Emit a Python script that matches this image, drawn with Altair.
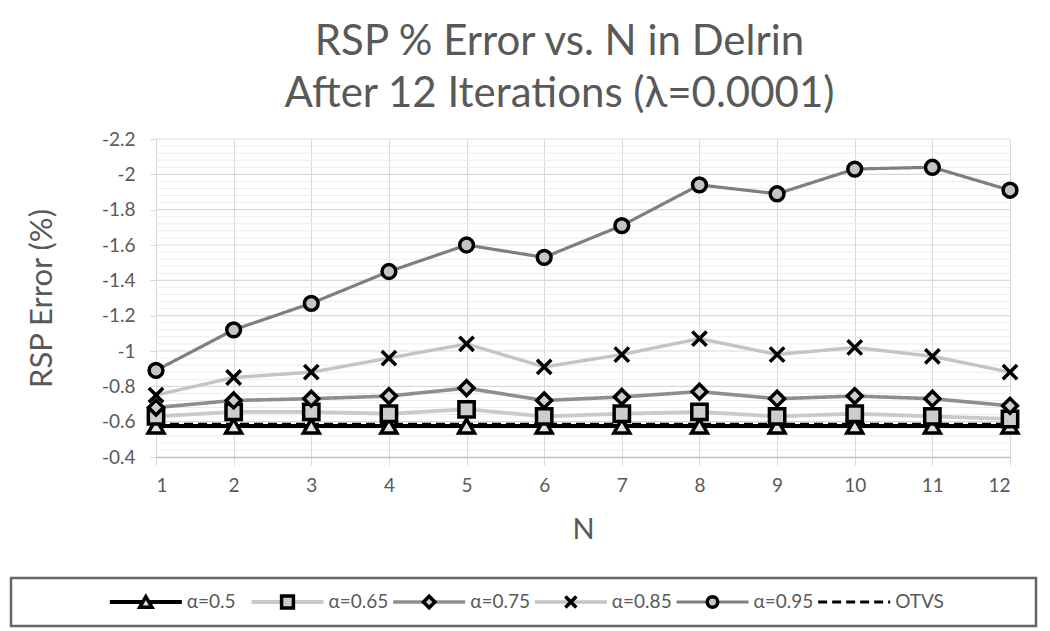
import altair as alt
import pandas as pd

# ---------------- data ----------------
N_VALUES = [1, 2, 3, 4, 5, 6, 7, 8, 9, 10, 11, 12]
SERIES = ["α=0.5", "α=0.65", "α=0.75", "α=0.85", "α=0.95", "OTVS"]

ERR_A050 = [-0.575, -0.575, -0.575, -0.575, -0.575, -0.575, -0.575, -0.575, -0.575, -0.575, -0.575, -0.575]
ERR_A065 = [-0.63, -0.655, -0.655, -0.645, -0.67, -0.63, -0.645, -0.655, -0.63, -0.645, -0.63, -0.615]
ERR_A075 = [-0.68, -0.72, -0.73, -0.745, -0.79, -0.72, -0.74, -0.77, -0.73, -0.745, -0.73, -0.69]
ERR_A085 = [-0.75, -0.85, -0.88, -0.96, -1.04, -0.91, -0.98, -1.07, -0.98, -1.02, -0.97, -0.88]
ERR_A095 = [-0.89, -1.12, -1.27, -1.45, -1.60, -1.53, -1.71, -1.94, -1.89, -2.03, -2.04, -1.91]
ERR_OTVS = [-0.585, -0.585, -0.585, -0.585, -0.585, -0.585, -0.585, -0.585, -0.585, -0.585, -0.585, -0.585]

LINE_COLORS = ["#000000", "#cacaca", "#8e8e8e", "#c4c4c4", "#7f7f7f", "#000000"]
LINE_DASH = [[1, 0], [1, 0], [1, 0], [1, 0], [1, 0], [9, 5]]
LINE_WIDTH = [4, 3, 3, 3, 3, 3]

MARKER_SERIES = ["α=0.5", "α=0.65", "α=0.75", "α=0.85", "α=0.95"]
MARKER_SHAPES = ["triangle-up", "square", "diamond", "M-1,-1L1,1M1,-1L-1,1", "circle"]
MARKER_FILLS = ["#e2e2e2", "#cdcdcd", "#cdcdcd", "#000000", "#c4c4c4"]
MARKER_SIZES = [250, 190, 290, 190, 380]
LEGEND_MARKER_SIZES = [150, 110, 170, 110, 200]

Y_MAJOR = [-2.2, -2.0, -1.8, -1.6, -1.4, -1.2, -1.0, -0.8, -0.6, -0.4]
Y_MINOR = [round(-2.2 + 0.04 * i, 2) for i in range(46) if i % 5 != 0]

series_values = [ERR_A050, ERR_A065, ERR_A075, ERR_A085, ERR_A095, ERR_OTVS]
rows = []
for name, vals in zip(SERIES, series_values):
    for n, v in zip(N_VALUES, vals):
        rows.append({"N": n, "err": v, "series": name})
df = pd.DataFrame(rows)
df_markers = df[df["series"] != "OTVS"]
df_major = pd.DataFrame({"v": Y_MAJOR[:-1], "n0": N_VALUES[0], "n1": N_VALUES[-1]})
df_minor = pd.DataFrame({"v": Y_MINOR, "n0": N_VALUES[0], "n1": N_VALUES[-1]})
df_legend = pd.DataFrame({"series": SERIES})
df_legend_markers = pd.DataFrame({"series": MARKER_SERIES})

FONT = "Lato"
TXT = "#595959"
GRID = "#d9d9d9"

# ---------------- scales / axes ----------------
color_scale = alt.Scale(domain=SERIES, range=LINE_COLORS)
dash_scale = alt.Scale(domain=SERIES, range=LINE_DASH)
width_scale = alt.Scale(domain=SERIES, range=LINE_WIDTH)
shape_scale = alt.Scale(domain=MARKER_SERIES, range=MARKER_SHAPES)
fill_scale = alt.Scale(domain=MARKER_SERIES, range=MARKER_FILLS)
size_scale = alt.Scale(domain=MARKER_SERIES, range=MARKER_SIZES)

VIEW_W = 1025
PLOT_LEFT = 145
PLOT_RIGHT = 999

x_axis = alt.Axis(
    values=N_VALUES, format="d", title="N", grid=True, gridColor=GRID,
    tickColor=GRID, tickSize=8, domainColor="#bfbfbf", domainWidth=1.5,
    labelFont=FONT, labelFontSize=19, labelColor=TXT, labelPadding=11,
    titleFont=FONT, titleFontSize=29, titleFontWeight="normal", titleColor=TXT,
    titlePadding=20, titleX=(PLOT_LEFT + PLOT_RIGHT) / 2,
)
y_axis = alt.Axis(
    values=Y_MAJOR, grid=False, tickColor=GRID, tickSize=6, offset=-PLOT_LEFT,
    domainColor=GRID, labelFont=FONT, labelFontSize=19, labelColor=TXT,
    labelPadding=15, minExtent=78,
    labelExpr="replace(format(datum.value, '~g'), '\u2212', '-')",
    title="RSP Error (%)", titleFont=FONT, titleFontSize=31,
    titleFontWeight="normal", titleColor=TXT, titlePadding=20,
)
x_scale = alt.Scale(domain=[1, 12], nice=False, zero=False, range=[PLOT_LEFT, PLOT_RIGHT])
x_enc = alt.X("N:Q", scale=x_scale, axis=x_axis)
y_scale = alt.Scale(domain=[-2.2, -0.4], reverse=True, nice=False, zero=False)
y_enc = alt.Y("err:Q", scale=y_scale, axis=y_axis)

minor = alt.Chart(df_minor).mark_rule(color="#ececec", strokeWidth=1).encode(
    x=alt.X("n0:Q", scale=x_scale, axis=x_axis), x2="n1:Q",
    y=alt.Y("v:Q", scale=y_scale, axis=y_axis),
)
major = alt.Chart(df_major).mark_rule(color=GRID, strokeWidth=1.2).encode(
    x=alt.X("n0:Q", scale=x_scale, axis=x_axis), x2="n1:Q",
    y=alt.Y("v:Q", scale=y_scale, axis=y_axis),
)
lines = alt.Chart(df).mark_line().encode(
    x=x_enc, y=y_enc,
    color=alt.Color("series:N", scale=color_scale, legend=None),
    strokeDash=alt.StrokeDash("series:N", scale=dash_scale, legend=None),
    strokeWidth=alt.StrokeWidth("series:N", scale=width_scale, legend=None),
)
points = alt.Chart(df_markers).mark_point(
    filled=True, stroke="black", strokeWidth=3.5, opacity=1
).encode(
    x=x_enc, y=y_enc,
    shape=alt.Shape("series:N", scale=shape_scale, legend=None),
    fill=alt.Fill("series:N", scale=fill_scale, legend=None),
    size=alt.Size("series:N", scale=size_scale, legend=None),
)

main = alt.layer(minor, major, lines, points).properties(
    width=VIEW_W, height=318,
    title=alt.TitleParams(
        ["RSP % Error vs. N in Delrin", "After 12 Iterations (λ=0.0001)"],
        font=FONT, fontSize=42, fontWeight="normal", color=TXT,
        lineHeight=52, frame="group", anchor="middle", dx=36, offset=14,
    ),
)

# ---------------- legend ----------------
leg_x = alt.X("series:N", scale=alt.Scale(type="point", domain=SERIES, range=[28, 878]), axis=None)
leg_line = alt.Chart(df_legend).mark_rule(x2Offset=72).encode(
    x=leg_x, x2=alt.X2("series"),
    color=alt.Color("series:N", scale=color_scale, legend=None),
    strokeDash=alt.StrokeDash("series:N", scale=dash_scale, legend=None),
    strokeWidth=alt.StrokeWidth("series:N", scale=width_scale, legend=None),
)
leg_pts = alt.Chart(df_legend_markers).mark_point(
    filled=True, stroke="black", strokeWidth=3.5, opacity=1, xOffset=36
).encode(
    x=leg_x,
    shape=alt.Shape("series:N", scale=shape_scale, legend=None),
    fill=alt.Fill("series:N", scale=fill_scale, legend=None),
    size=alt.Size("series:N", scale=alt.Scale(domain=MARKER_SERIES, range=LEGEND_MARKER_SIZES), legend=None),
)
leg_txt = alt.Chart(df_legend).mark_text(
    align="left", baseline="middle", dx=77, font=FONT, fontSize=19, color=TXT
).encode(x=leg_x, text="series:N")

legend = alt.layer(leg_line, leg_pts, leg_txt).properties(
    width=VIEW_W, height=48,
    view=alt.ViewBackground(stroke="#666666", strokeWidth=2.5),
)

chart = alt.vconcat(main, legend, spacing=31).properties(
    padding={"left": 1, "top": 12, "right": 0, "bottom": 0}
).configure_view(stroke="transparent").resolve_scale(size="independent")

chart.save("out.html", embed_options={"renderer": "svg", "actions": False})
